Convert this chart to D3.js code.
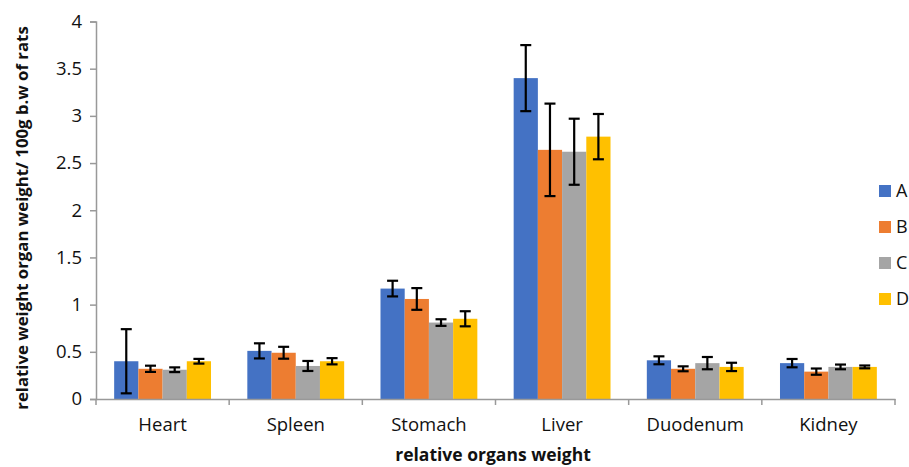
<!DOCTYPE html>
<html><head><meta charset="utf-8">
<script src="https://cdn.jsdelivr.net/npm/d3@7"></script>
<style>body{margin:0;background:#fff}svg{display:block}</style>
</head><body>
<svg id="chart" width="909" height="467"></svg>
<script>
const categories = ["Heart","Spleen","Stomach","Liver","Duodenum","Kidney"];
const seriesNames = ["A","B","C","D"];
const valuesA = [0.40, 0.51, 1.17, 3.40, 0.41, 0.38];
const valuesB = [0.32, 0.49, 1.06, 2.64, 0.32, 0.29];
const valuesC = [0.31, 0.35, 0.81, 2.62, 0.38, 0.34];
const valuesD = [0.40, 0.40, 0.85, 2.78, 0.34, 0.34];
const errA = [0.34, 0.08, 0.083, 0.35, 0.042, 0.044];
const errB = [0.033, 0.063, 0.115, 0.49, 0.026, 0.033];
const errC = [0.025, 0.053, 0.035, 0.35, 0.065, 0.025];
const errD = [0.025, 0.033, 0.08, 0.24, 0.044, 0.015];
const yTicks = [0, 0.5, 1, 1.5, 2, 2.5, 3, 3.5, 4];
const colors = ["#4472C4","#ED7D31","#A5A5A5","#FFC000"];

const values = [valuesA, valuesB, valuesC, valuesD];
const errs = [errA, errB, errC, errD];
const data = [];
categories.forEach((c, i) => seriesNames.forEach((s, j) => data.push({cat: c, ser: s, v: values[j][i], e: errs[j][i], k: j})));

const svg = d3.select("#chart");
const font = "'Open Sans', 'Liberation Sans', sans-serif";
const m = {left: 96, right: 895, top: 21.5, bottom: 399};

const x = d3.scaleBand().domain(categories).range([m.left, m.right]).paddingInner(0).paddingOuter(0);
const x1 = d3.scaleBand().domain(seriesNames).range([0, x.bandwidth()]).paddingInner(0).paddingOuter(0.75);
const y = d3.scaleLinear().domain([0, 4]).range([m.bottom, m.top]);

// bars
svg.append("g").selectAll("rect").data(data).join("rect")
  .attr("x", d => x(d.cat) + x1(d.ser))
  .attr("y", d => y(d.v))
  .attr("width", x1.bandwidth())
  .attr("height", d => y(0) - y(d.v))
  .attr("fill", d => colors[d.k]);

// error bars
const eg = svg.append("g").attr("stroke", "#000").attr("stroke-width", 2.2);
data.forEach(d => {
  const cx = x(d.cat) + x1(d.ser) + x1.bandwidth() / 2;
  const y1 = y(d.v + d.e), y2 = y(d.v - d.e);
  eg.append("line").attr("x1", cx).attr("x2", cx).attr("y1", y1).attr("y2", y2);
  eg.append("line").attr("x1", cx - 5.5).attr("x2", cx + 5.5).attr("y1", y1).attr("y2", y1);
  eg.append("line").attr("x1", cx - 5.5).attr("x2", cx + 5.5).attr("y1", y2).attr("y2", y2);
});

// y axis
const yAxis = svg.append("g").attr("transform", `translate(${m.left},0)`)
  .call(d3.axisLeft(y).tickValues(yTicks).tickFormat(d3.format("")).tickSize(6).tickPadding(8));
yAxis.select(".domain").attr("stroke", "#999").attr("stroke-width", 1.5);
yAxis.selectAll(".tick line").attr("stroke", "#999").attr("stroke-width", 1.5);
yAxis.selectAll("text").attr("font-family", font).attr("font-size", 18.5).attr("fill", "#111");

// x axis
const xAxis = svg.append("g").attr("transform", `translate(0,${m.bottom})`)
  .call(d3.axisBottom(x).tickSize(0).tickPadding(19));
xAxis.select(".domain").attr("stroke", "#999").attr("stroke-width", 1.5);
xAxis.selectAll("text").attr("font-family", font).attr("font-size", 18.5).attr("fill", "#111");
// boundary ticks
const bounds = categories.map(c => x(c)).concat([x.range()[1]]);
xAxis.selectAll(".btick").data(bounds).join("line").attr("class", "btick")
  .attr("x1", d => d).attr("x2", d => d).attr("y1", 0).attr("y2", 6)
  .attr("stroke", "#999").attr("stroke-width", 1.5);

// axis titles
svg.append("text").attr("transform", `translate(28,218) rotate(-90)`)
  .attr("text-anchor", "middle").attr("font-family", font).attr("font-weight", "bold")
  .attr("font-size", 16.8).attr("fill", "#111")
  .text("relative weight organ weight/ 100g b.w of rats");
svg.append("text").attr("x", 493).attr("y", 461)
  .attr("text-anchor", "middle").attr("font-family", font).attr("font-weight", "bold")
  .attr("font-size", 17.5).attr("fill", "#111")
  .text("relative organs weight");

// legend
const lg = svg.append("g");
seriesNames.forEach((s, i) => {
  const ly = 191 + i * 36;
  lg.append("rect").attr("x", 879).attr("y", ly - 6).attr("width", 12).attr("height", 12).attr("fill", colors[i]);
  lg.append("text").attr("x", 896).attr("y", ly).attr("dy", "0.36em")
    .attr("font-family", font).attr("font-size", 18).attr("fill", "#111").text(s);
});
</script>
</body></html>
